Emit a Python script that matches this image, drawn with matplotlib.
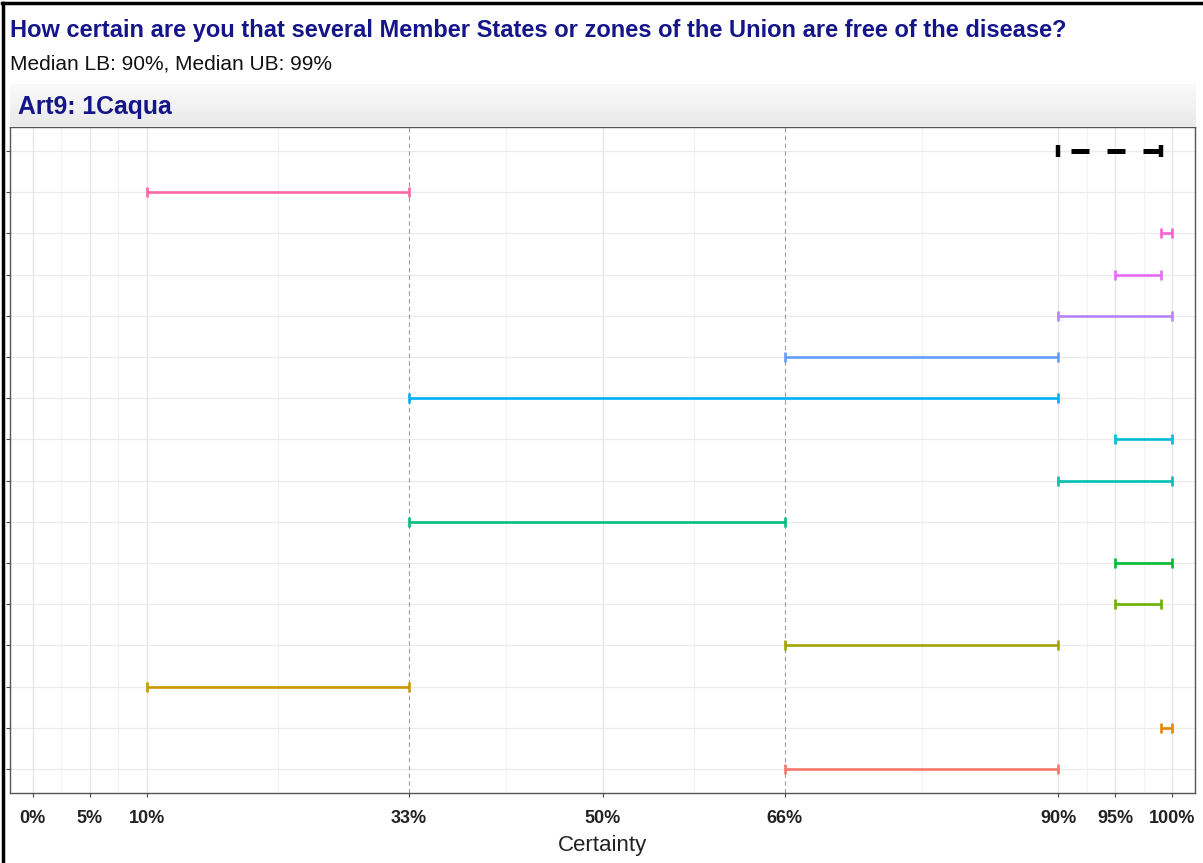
import numpy as np
import matplotlib
matplotlib.use("Agg")
import matplotlib.pyplot as plt

# expert intervals, bottom row first (ggplot hue palette, 15 levels)
lower = [66, 99, 10, 66, 95, 95, 33, 90, 95, 33, 66, 90, 95, 99, 10]
upper = [90, 100, 33, 90, 99, 100, 66, 100, 100, 90, 90, 100, 99, 100, 33]
colors = ["#F8766D", "#E58700", "#C99800", "#A3A500", "#6BB100", "#00BA38", "#00BF7D",
          "#00C0AF", "#00BCD8", "#00B0F6", "#619CFF", "#B983FF", "#E76BF3", "#FD61D1", "#FF67A4"]
major_ticks = [0, 5, 10, 33, 50, 66, 90, 95, 100]
tick_labels = ["0%", "5%", "10%", "33%", "50%", "66%", "90%", "95%", "100%"]

title = "How certain are you that several Member States or zones of the Union are free of the disease?"
strip_label = "Art9: 1Caqua"
med_lb = np.median(lower)
med_ub = np.median(upper)

plt.rcParams["font.family"] = ["Liberation Sans", "DejaVu Sans"]
W, H = 1203, 863
fig = plt.figure(figsize=(W / 100, H / 100), dpi=100)

def fx(px):
    return px / W

def fy(py):
    return 1 - py / H

ax = fig.add_axes([fx(10), fy(793), fx(1195) - fx(10), fy(127) - fy(793)])

n = len(lower)
rows = np.arange(1, n + 2)

# grid
minor = [(a + b) / 2 for a, b in zip(major_ticks[:-1], major_ticks[1:])]
for m in minor:
    ax.axvline(m, color="#f2f2f2", lw=0.8, zorder=0)
for t in major_ticks:
    if t in (33, 66):
        ax.axvline(t, color="#9a9a9a", lw=0.8, ls=(0, (4, 3)), zorder=1)
    else:
        ax.axvline(t, color="#e6e6e6", lw=0.9, zorder=0)
for r in rows:
    ax.axhline(r, color="#ebebeb", lw=0.9, zorder=0)

for i in range(n):
    lo, hi = lower[i], upper[i]
    ax.errorbar((lo + hi) / 2, i + 1, xerr=(hi - lo) / 2, fmt="none", ecolor=colors[i],
                elinewidth=1.9, capsize=3.5, capthick=1.9, zorder=3)

eb = ax.errorbar((med_lb + med_ub) / 2, n + 1, xerr=(med_ub - med_lb) / 2, fmt="none",
                 ecolor="black", elinewidth=3.6, capsize=4.5, capthick=3.2, zorder=3)
eb[2][0].set_linestyle((4.6, (3.6, 3.6)))

ax.set_xlim(-2, 102)
ax.set_ylim(0.42, n + 1.58)
ax.set_xticks(major_ticks)
ax.set_xticklabels(tick_labels, fontsize=13, fontweight="bold", color="#222222")
ax.set_yticks(rows)
ax.set_yticklabels([])
ax.tick_params(axis="both", length=3, width=0.8, color="#444444", pad=9)
for s in ax.spines.values():
    s.set_color("#555555")
    s.set_linewidth(1.0)
ax.set_xlabel("Certainty", fontsize=16, color="#222222", labelpad=6)

# strip header
sax = fig.add_axes([fx(10), fy(127), fx(1196) - fx(10), fy(84) - fy(127)])
grad = np.linspace(0, 1, 50).reshape(-1, 1)
sax.imshow(grad, aspect="auto", cmap=plt.matplotlib.colors.LinearSegmentedColormap.from_list(
    "g", ["#fafafa", "#e9e9e9"]), extent=(0, 1, 0, 1), origin="upper")
sax.set_axis_off()
fig.text(fx(18), fy(107), strip_label, fontsize=17.8, fontweight="bold", color="#15158a",
         va="center", ha="left")

fig.text(fx(10), fy(30), title, fontsize=17, fontweight="bold", color="#15158a",
         va="center", ha="left")
fig.text(fx(10), fy(64), f"Median LB: {med_lb:.0f}%, Median UB: {med_ub:.0f}%", fontsize=15,
         color="#111111", va="center", ha="left")

# screenshot frame on left and top
fig.add_artist(plt.Line2D([fx(2.5), fx(2.5)], [0, fy(3)], color="black", lw=2.5))
fig.add_artist(plt.Line2D([fx(2), 1], [fy(3.5), fy(3.5)], color="black", lw=2.5))

fig.savefig("out.png", dpi=100)
